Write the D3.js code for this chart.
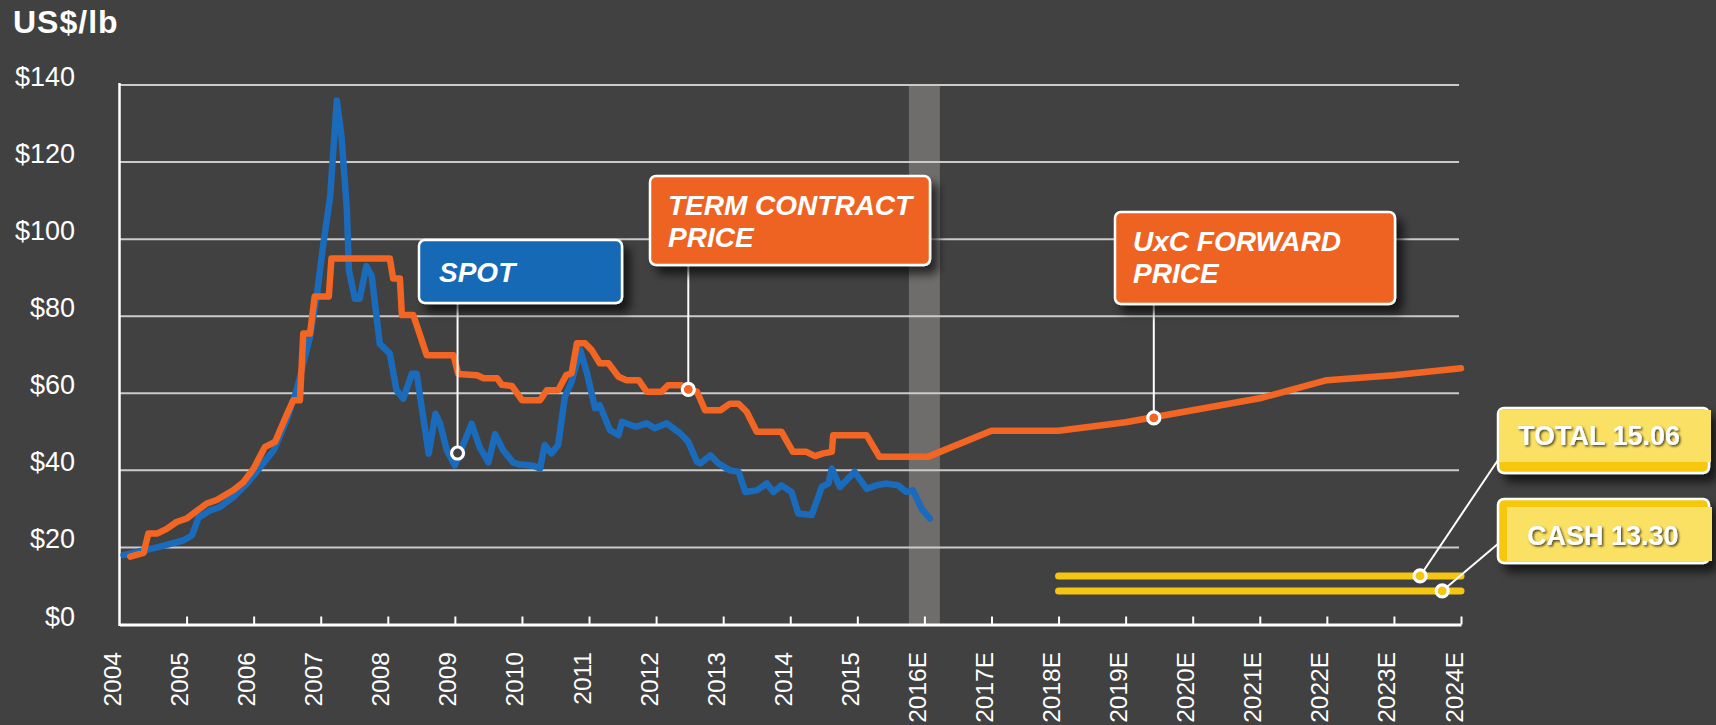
<!DOCTYPE html>
<html lang="en">
<head>
  <meta charset="UTF-8">
  <title>Uranium price US$/lb</title>
  <script src="https://d3js.org/d3.v7.min.js"></script>
  <style>
    html, body { margin: 0; padding: 0; background: #414141; }
    svg { display: block; font-family: "Liberation Sans", Arial, sans-serif; }
  </style>
</head>
<body>
  <div id="chart"></div>
  <script>
    const width = 1716;
    const height = 725;

    // axis labels
    const yearLabels = ["2004", "2005", "2006", "2007", "2008", "2009", "2010", "2011", "2012", "2013",
      "2014", "2015", "2016E", "2017E", "2018E", "2019E", "2020E", "2021E", "2022E", "2023E", "2024E"];
    const priceTicks = [0, 20, 40, 60, 80, 100, 120, 140];

    // spot price (blue)
    const spotDates = [2004.06, 2004.16, 2004.36, 2004.56, 2004.76, 2004.95, 2005.08, 2005.18, 2005.35, 2005.50,
      2005.70, 2005.90, 2006.10, 2006.30, 2006.49, 2006.64, 2006.74, 2006.84, 2006.94, 2007.04,
      2007.14, 2007.24, 2007.31, 2007.39, 2007.42, 2007.51, 2007.58, 2007.68, 2007.76, 2007.88,
      2008.03, 2008.13, 2008.23, 2008.36, 2008.43, 2008.61, 2008.71, 2008.78, 2008.88, 2009.00,
      2009.13, 2009.25, 2009.37, 2009.50, 2009.60, 2009.72, 2009.87, 2009.97, 2010.17, 2010.27,
      2010.34, 2010.44, 2010.54, 2010.64, 2010.74, 2010.87, 2010.97, 2011.09, 2011.16, 2011.31,
      2011.44, 2011.49, 2011.69, 2011.86, 2011.98, 2012.16, 2012.36, 2012.48, 2012.61, 2012.66,
      2012.81, 2012.93, 2013.10, 2013.23, 2013.33, 2013.50, 2013.65, 2013.75, 2013.87, 2014.02,
      2014.12, 2014.32, 2014.47, 2014.57, 2014.62, 2014.74, 2014.96, 2015.14, 2015.28, 2015.43,
      2015.61, 2015.73, 2015.83, 2015.96, 2016.08];
    const spotPrices = [18.0, 18.4, 19.2, 20.0, 20.9, 21.8, 23.1, 27.8, 29.6, 30.5,
      33.1, 36.6, 40.9, 45.2, 53.0, 60.8, 67.7, 74.7, 85.1, 98.9,
      111.0, 136.0, 126.6, 107.6, 92.0, 84.5, 84.5, 93.0, 90.5, 72.9,
      70.3, 60.8, 58.6, 65.1, 65.1, 44.3, 54.7, 52.1, 45.2, 41.3,
      46.9, 52.1, 46.0, 42.1, 49.4, 45.2, 42.0, 41.5, 41.2, 40.5,
      46.6, 44.4, 46.6, 59.1, 63.0, 71.2, 65.2, 56.1, 56.9, 50.5,
      49.1, 52.6, 51.3, 52.2, 50.9, 52.2, 49.6, 47.4, 42.2, 41.8,
      43.9, 41.8, 40.0, 39.6, 34.4, 34.8, 36.6, 34.4, 36.1, 34.4,
      28.8, 28.4, 35.7, 36.6, 40.5, 35.7, 39.6, 35.2, 36.1, 36.6,
      36.1, 34.4, 34.8, 30.0, 27.5];

    // term contract price (orange)
    const termDates = [2004.16, 2004.36, 2004.43, 2004.56, 2004.71, 2004.85, 2005.00, 2005.20, 2005.30, 2005.45,
      2005.70, 2005.85, 2006.00, 2006.17, 2006.32, 2006.49, 2006.59, 2006.69, 2006.74, 2006.84,
      2006.91, 2007.12, 2007.16, 2008.03, 2008.08, 2008.18, 2008.21, 2008.38, 2008.58, 2008.98,
      2009.05, 2009.33, 2009.43, 2009.63, 2009.70, 2009.85, 2010.00, 2010.27, 2010.37, 2010.54,
      2010.66, 2010.74, 2010.82, 2010.94, 2011.04, 2011.16, 2011.29, 2011.44, 2011.56, 2011.74,
      2011.86, 2012.08, 2012.18, 2012.38, 2012.48, 2012.61, 2012.73, 2012.96, 2013.10, 2013.23,
      2013.35, 2013.50, 2013.87, 2014.04, 2014.24, 2014.37, 2014.49, 2014.62, 2014.64, 2015.14,
      2015.33, 2016.05];
    const termPrices = [17.6, 18.6, 23.6, 23.6, 24.9, 26.6, 27.5, 30.1, 31.4, 32.3,
      34.9, 37.0, 40.5, 46.1, 47.4, 54.3, 58.2, 58.2, 75.5, 75.5,
      85.1, 85.1, 95.0, 95.0, 89.8, 89.8, 80.3, 80.3, 69.9, 69.9,
      65.0, 64.7, 63.9, 63.9, 62.2, 61.9, 58.2, 58.2, 60.8, 60.8,
      64.7, 65.2, 73.0, 73.0, 71.2, 67.8, 67.8, 64.3, 63.4, 63.4,
      60.4, 60.4, 62.1, 62.1, 61.0, 60.4, 55.6, 55.6, 57.3, 57.3,
      55.2, 50.0, 50.0, 44.8, 44.8, 43.7, 44.4, 44.8, 49.1, 49.1,
      43.5, 43.5];

    // UxC forward price (orange)
    const forwardDates = [2016.05, 2017, 2018, 2019, 2021, 2022, 2023, 2024];
    const forwardPrices = [43.5, 50.3, 50.3, 52.5, 58.7, 63.4, 64.7, 66.5];

    // cost levels (yellow)
    const costNames = ["TOTAL 15.06", "CASH 13.30"];
    const costLevels = [12.6, 8.7];
    const costStart = 2018;
    const costEnd = 2024;

    const blue = "#1a6bbb";
    const orange = "#f26522";
    const yellow = "#f6c512";
    const bg = "#414141";

    const svg = d3.select("#chart").append("svg")
      .attr("width", width).attr("height", height);

    svg.append("rect").attr("width", width).attr("height", height).attr("fill", bg);

    const defs = svg.append("defs");
    defs.append("filter").attr("id", "shadow")
      .attr("x", "-10%").attr("y", "-10%").attr("width", "130%").attr("height", "150%")
      .append("feDropShadow")
      .attr("dx", 7).attr("dy", 8).attr("stdDeviation", 5)
      .attr("flood-color", "#000").attr("flood-opacity", 0.65);
    defs.append("filter").attr("id", "textshadow")
      .append("feDropShadow")
      .attr("dx", 1.5).attr("dy", 1.5).attr("stdDeviation", 0.8)
      .attr("flood-color", "#000").attr("flood-opacity", 0.7);

    const x = d3.scaleLinear().domain([2004, 2024]).range([119.5, 1461]);
    const y = d3.scaleLinear().domain([0, 140]).range([624.5, 85]);

    // title
    svg.append("text")
      .attr("x", 13).attr("y", 33)
      .attr("fill", "#fff").attr("font-weight", "bold").attr("font-size", 32)
      .attr("letter-spacing", 1)
      .text("US$/lb");

    // 2016E band
    svg.append("rect")
      .attr("x", x(2016) - 15.5).attr("width", 31)
      .attr("y", y(140)).attr("height", y(0) - y(140))
      .attr("fill", "#6e6d6c");

    // gridlines
    svg.append("g")
      .selectAll("line")
      .data(priceTicks.filter(d => d > 0))
      .join("line")
      .attr("x1", x(2004)).attr("x2", 1459)
      .attr("y1", d => y(d)).attr("y2", d => y(d))
      .attr("stroke", "#cbcbcb").attr("stroke-width", 2);

    // y labels
    svg.append("g")
      .selectAll("text")
      .data(priceTicks)
      .join("text")
      .attr("x", 75).attr("y", d => y(d) + 1)
      .attr("text-anchor", "end")
      .attr("fill", "#fff").attr("font-size", 27)
      .text(d => "$" + d);

    // x axis
    const xAxis = d3.axisBottom(x)
      .tickValues(d3.range(2005, 2025))
      .tickSize(-8).tickSizeOuter(0)
      .tickFormat("");
    const gx = svg.append("g").attr("transform", `translate(0,${y(0)})`).call(xAxis);
    gx.select(".domain").attr("stroke", "#fff").attr("stroke-width", 3);
    gx.selectAll(".tick line").attr("stroke", "#fff").attr("stroke-width", 2);

    // left axis line
    svg.append("line")
      .attr("x1", x(2004)).attr("x2", x(2004))
      .attr("y1", y(140) - 2).attr("y2", y(0) + 1.5)
      .attr("stroke", "#fff").attr("stroke-width", 2.5);

    // x labels
    svg.append("g")
      .selectAll("text")
      .data(yearLabels)
      .join("text")
      .attr("transform", (d, i) => `translate(${x(2004 + i) + 1.5},652) rotate(-90)`)
      .attr("text-anchor", "end")
      .attr("fill", "#fff").attr("font-size", 24.5)
      .text(d => d);

    // series
    const line = d3.line().x(d => x(d[0])).y(d => y(d[1]));
    const draw = (dates, prices, color, w) => svg.append("path")
      .datum(dates.map((d, i) => [d, prices[i]]))
      .attr("d", line)
      .attr("fill", "none").attr("stroke", color).attr("stroke-width", w)
      .attr("stroke-linejoin", "round").attr("stroke-linecap", "round");

    draw(spotDates, spotPrices, blue, 6.5);
    draw(termDates, termPrices, orange, 6.5);
    draw(forwardDates, forwardPrices, orange, 6.5);

    costLevels.forEach(v => {
      svg.append("line")
        .attr("x1", x(costStart)).attr("x2", x(costEnd))
        .attr("y1", y(v)).attr("y2", y(v))
        .attr("stroke", yellow).attr("stroke-width", 7).attr("stroke-linecap", "round");
    });

    // callouts
    function leader(x1, y1, x2, y2) {
      svg.append("line")
        .attr("x1", x1).attr("y1", y1).attr("x2", x2).attr("y2", y2)
        .attr("stroke", "#fff").attr("stroke-width", 2);
    }
    function dot(cx, cy, fill) {
      svg.append("circle").attr("cx", cx).attr("cy", cy).attr("r", 6)
        .attr("fill", fill).attr("stroke", "#fff").attr("stroke-width", 3.2);
    }
    function box(bx, by, bw, bh, fill, lines, tx, ty) {
      svg.append("rect")
        .attr("x", bx).attr("y", by).attr("width", bw).attr("height", bh)
        .attr("rx", 6).attr("fill", fill)
        .attr("stroke", "#fff").attr("stroke-width", 2.5)
        .attr("filter", "url(#shadow)");
      svg.append("text")
        .attr("x", tx).attr("y", ty)
        .attr("fill", "#fff").attr("font-size", 28)
        .attr("font-weight", "bold").attr("font-style", "italic")
        .selectAll("tspan").data(lines).join("tspan")
        .attr("x", tx).attr("dy", (d, i) => i ? 32 : 0)
        .text(d => d);
    }

    // SPOT
    const spotPt = [2009.04, 44.5];
    leader(x(spotPt[0]), y(spotPt[1]), x(spotPt[0]), 303);
    box(419, 240, 203, 63, "#1769b5", ["SPOT"], 439, 282);
    dot(x(spotPt[0]), y(spotPt[1]), bg);

    // TERM CONTRACT PRICE
    const termPt = [2012.48, 61.0];
    leader(x(termPt[0]), y(termPt[1]), x(termPt[0]), 265);
    box(650, 176, 280, 89, "#ee6421", ["TERM CONTRACT", "PRICE"], 668, 215);
    dot(x(termPt[0]), y(termPt[1]), orange);

    // UxC FORWARD PRICE
    const fwdPt = [2019.42, 53.6];
    leader(x(fwdPt[0]), y(fwdPt[1]), x(fwdPt[0]), 304);
    box(1115, 212, 280, 92, "#ee6421", ["UxC FORWARD", "PRICE"], 1133, 251);
    dot(x(fwdPt[0]), y(fwdPt[1]), orange);

    // yellow cost callouts
    const costDots = [2023.39, 2023.72];
    const costBoxes = [
      { y: 408, h: 65, light: [1499, 410, 212, 52], ty: 445, tx: 1518, to: [1498, 460] },
      { y: 499, h: 64, light: [1507, 507, 205, 54], ty: 545, tx: 1527, to: [1499, 543] }
    ];
    costNames.forEach((name, i) => {
      const b = costBoxes[i];
      const cx = x(costDots[i]), cy = y(costLevels[i]);
      leader(cx, cy, b.to[0], b.to[1]);
      svg.append("rect")
        .attr("x", 1498).attr("y", b.y).attr("width", 211).attr("height", b.h)
        .attr("rx", 6).attr("fill", "#f5c80f")
        .attr("stroke", "#fff").attr("stroke-width", 2.5)
        .attr("filter", "url(#shadow)");
      svg.append("rect")
        .attr("x", b.light[0]).attr("y", b.light[1])
        .attr("width", b.light[2]).attr("height", b.light[3])
        .attr("fill", "#fbe163");
      svg.append("text")
        .attr("x", b.tx).attr("y", b.ty)
        .attr("fill", "#fff").attr("font-size", 27).attr("font-weight", "bold")
        .attr("filter", "url(#textshadow)")
        .text(name);
      dot(cx, cy, yellow);
    });
  </script>
</body>
</html>
